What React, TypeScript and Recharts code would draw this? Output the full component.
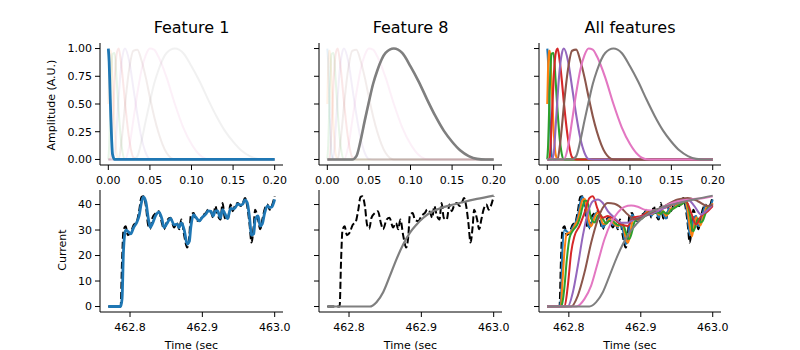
import React from 'react';
import { LineChart, Line, XAxis, YAxis } from 'recharts';

// tab10
const COLORS = ['#1f77b4', '#ff7f0e', '#2ca02c', '#d62728', '#9467bd', '#8c564b', '#e377c2', '#7f7f7f'];

// ---- top row: basis functions (A.U.) ----
const BASIS_T = [0, 0.001, 0.002, 0.003, 0.004, 0.005, 0.0075, 0.01, 0.0125, 0.015, 0.0175, 0.02, 0.025, 0.03, 0.035, 0.04, 0.045,
  0.05, 0.055, 0.06, 0.07, 0.08, 0.09, 0.1, 0.11, 0.12, 0.13, 0.14, 0.15, 0.16, 0.17, 0.18, 0.19, 0.2];

const F1 = [1, 0.88, 0.63, 0.38, 0.18, 0.05, 0, 0, 0, 0, 0, 0, 0, 0, 0, 0, 0, 0, 0, 0, 0, 0, 0, 0, 0, 0, 0, 0, 0, 0, 0, 0, 0, 0];
const F2 = [0.5, 0.83, 0.98, 0.98, 0.88, 0.72, 0.3, 0.05, 0, 0, 0, 0, 0, 0, 0, 0, 0, 0, 0, 0, 0, 0, 0, 0, 0, 0, 0, 0, 0, 0, 0, 0, 0, 0];
const F3 = [0, 0.12, 0.37, 0.63, 0.83, 0.95, 0.96, 0.72, 0.43, 0.19, 0.05, 0, 0, 0, 0, 0, 0, 0, 0, 0, 0, 0, 0, 0, 0, 0, 0, 0, 0, 0, 0, 0, 0, 0];
const F4 = [0, 0, 0, 0.02, 0.12, 0.28, 0.7, 0.95, 1.0, 0.89, 0.72, 0.52, 0.19, 0.02, 0, 0, 0, 0, 0, 0, 0, 0, 0, 0, 0, 0, 0, 0, 0, 0, 0, 0, 0, 0];
const F5 = [0, 0, 0, 0, 0, 0, 0.04, 0.28, 0.57, 0.81, 0.95, 1.0, 0.89, 0.65, 0.4, 0.19, 0.06, 0.004, 0, 0, 0, 0, 0, 0, 0, 0, 0, 0, 0, 0, 0, 0, 0, 0];
const F6 = [0, 0, 0, 0, 0, 0, 0, 0, 0.005, 0.11, 0.28, 0.48, 0.81, 0.98, 0.99, 0.89, 0.74, 0.56, 0.39, 0.25, 0.06, 0, 0, 0, 0, 0, 0, 0, 0, 0, 0, 0, 0, 0];
const F7 = [0, 0, 0, 0, 0, 0, 0, 0, 0, 0, 0, 0, 0.11, 0.35, 0.6, 0.81, 0.94, 1.0, 0.99, 0.93, 0.74, 0.5, 0.29, 0.14, 0.04, 0.002, 0, 0, 0, 0, 0, 0, 0, 0];
const F8 = [0, 0, 0, 0, 0, 0, 0, 0, 0, 0, 0, 0, 0, 0, 0.03, 0.17, 0.35, 0.52, 0.68, 0.8, 0.96, 1.0, 0.96, 0.84, 0.7, 0.54, 0.39, 0.26, 0.16, 0.08, 0.03, 0.005, 0, 0];
const BASIS = [F1, F2, F3, F4, F5, F6, F7, F8];

// ---- bottom row: current trace and its convolutions ----
const CURRENT_T = [
  462.770, 462.787, 462.789, 462.791, 462.794, 462.797, 462.801, 462.805, 462.809, 462.8125,
  462.816, 462.8185, 462.822, 462.825, 462.828, 462.831, 462.836, 462.840, 462.844, 462.847,
  462.852, 462.856, 462.861, 462.865, 462.868, 462.871, 462.875, 462.879, 462.882, 462.884,
  462.888, 462.891, 462.896, 462.900, 462.905, 462.908, 462.912, 462.915, 462.918, 462.921,
  462.925, 462.928, 462.931, 462.935, 462.939, 462.942, 462.945, 462.949, 462.953, 462.956,
  462.959, 462.962, 462.965, 462.968, 462.971, 462.973, 462.977, 462.980, 462.983, 462.986,
  462.990, 462.993, 462.996, 463.000];
const CURRENT = [
  0, 0, 18, 30, 31.5, 28, 29, 32, 33, 37.4,
  43, 43.2, 39.3, 32, 30.5, 34.8, 36.7, 37.4, 32.8, 30.3,
  34.1, 34.8, 31, 32.8, 30.3, 34.1, 27.7, 23.1, 27.7, 35.5,
  36.7, 34.1, 33.5, 35.5, 36.7, 38, 37, 34.8, 39.4, 36.1,
  34.1, 40.6, 34.8, 34.1, 40, 37.4, 39.4, 40.6, 39.4, 40.6,
  42.6, 39.4, 32.9, 25.1, 31.6, 38, 34.2, 30.3, 34.2, 38,
  40, 38, 39.4, 43.2];
const CONV1 = [
  0, 0, 3, 22, 30, 29.5, 28.5, 31, 32.8, 35.5,
  41, 43, 41, 35, 31, 32.5, 36, 37, 34.5, 31,
  33, 34.6, 32, 32.3, 31, 32.8, 30, 24.5, 25.5, 31,
  36, 35, 33.6, 35, 36.3, 37.5, 37.3, 35.5, 37.5, 37.5,
  34.8, 38, 36.5, 34.5, 38.5, 38.3, 38.6, 40.2, 39.8, 40.2,
  41.8, 40.8, 35.5, 28, 28.5, 34, 35.5, 31.5, 32.5, 36.5,
  39.5, 38.8, 39, 42];
const CONV2 = [
  0, 0, 0.5, 9, 22, 28.5, 29, 30, 32.3, 34,
  38.5, 41.5, 42.3, 38.5, 33.5, 31.5, 35, 36.8, 35.5, 32.5,
  32.5, 34.3, 33, 32, 31.6, 32, 32, 27, 25, 26.5,
  33, 35, 34, 34.5, 36, 37, 37.5, 36.3, 36.5, 37.8,
  36, 36.5, 37.5, 35.5, 37, 38.5, 38.3, 39.5, 40, 40,
  41.2, 41.5, 38, 31.5, 27.5, 30, 35, 33.5, 31.8, 34.5,
  38, 39.5, 38.8, 40.5];
const CONV3 = [
  0, 0, 0, 1.5, 8, 18, 27, 29.5, 31, 32.5,
  35.5, 38.5, 41.5, 41.5, 38.5, 34.5, 33, 35.5, 36, 34.5,
  32.5, 33.5, 33.5, 32.5, 32, 32, 32.3, 29.5, 27, 26.5,
  29.5, 33, 34.5, 34.3, 35.3, 36.3, 37.2, 37, 36.5, 37,
  36.8, 36.3, 37.3, 36.5, 36.5, 37.8, 38.4, 39, 39.8, 40,
  40.5, 41.3, 40.3, 36.5, 31, 29.5, 32.5, 34.5, 33, 33.5,
  36.5, 38.5, 39, 39.5];

const CONV4_T = [462.770, 462.794, 462.7986, 462.8032, 462.8079, 462.8148, 462.8218, 462.8287, 462.8333, 462.8403, 462.8472, 462.8542, 462.8634,
  462.8727, 462.8819, 462.8889, 462.9005, 462.9144, 462.9329, 462.9514, 462.963, 462.9699, 462.9769, 462.9838, 462.9931, 463.0];
const CONV4 = [0, 0, 8.2, 21.2, 27.7, 31.6, 36.8, 42.6, 43.2, 38, 34.8, 35.5, 34.2, 32.2, 31.6, 34.8, 35.5, 37.4, 38.7, 40.6, 41.3, 36.8, 32.2, 35.5, 37.4, 39.4];

const CONV5_T = [462.770, 462.7986, 462.8056, 462.8125, 462.8194, 462.8264, 462.8333, 462.8403, 462.8472, 462.8542, 462.8634, 462.8727,
  462.8819, 462.8912, 462.9051, 462.919, 462.9329, 462.9514, 462.9653, 462.9745, 462.9838, 462.9931, 463.0];
const CONV5 = [0, 0, 5.6, 16, 27.7, 36.8, 41.3, 42, 40.6, 37.4, 34.8, 32.9, 32.9, 34.2, 35.5, 36.8, 38.7, 41.3, 42, 39.4, 36.1, 38, 40];

const CONV6_T = [462.770, 462.8032, 462.8125, 462.8218, 462.831, 462.8403, 462.8472, 462.8542, 462.8634, 462.8727, 462.8819, 462.8912,
  462.9005, 462.9144, 462.9329, 462.9514, 462.9653, 462.9792, 462.9931, 463.0];
const CONV6 = [0, 0, 4.3, 13.4, 25, 34.2, 38.7, 40.6, 40.3, 38.7, 36.1, 34.2, 34.8, 36.8, 39.4, 42, 42.6, 41.3, 39.4, 40];

const CONV7_T = [462.770, 462.8102, 462.8218, 462.831, 462.8403, 462.8495, 462.8588, 462.868, 462.8773, 462.8866, 462.8958, 462.9051,
  462.9144, 462.9236, 462.9329, 462.9514, 462.9699, 462.9884, 463.0];
const CONV7 = [0, 0, 3, 8.2, 17.3, 26.4, 32.9, 36.8, 39.1, 39.6, 39.1, 38, 37.7, 38, 39.4, 41.3, 42, 42.6, 43.2];

const CONV8_T = [462.770, 462.8287, 462.838, 462.8472, 462.8565, 462.8657, 462.875, 462.8843, 462.8935, 462.9028, 462.912, 462.9213,
  462.9306, 462.9444, 462.9583, 462.9769, 463.0];
const CONV8 = [0, 0, 1.7, 5.6, 12, 18.6, 24.4, 29, 32.2, 34.8, 36.8, 38, 39, 40, 41, 42.2, 43.5];

const BASIS_TICKS = [0, 0.05, 0.1, 0.15, 0.2];
const AMP_TICKS = [0, 0.25, 0.5, 0.75, 1];
const TIME_TICKS = [462.8, 462.9, 463.0];
const CURRENT_TICKS = [0, 10, 20, 30, 40];
const TITLES = ['Feature 1', 'Feature 8', 'All features'];

const basisRows = BASIS_T.map((t, i) => {
  const row: Record<string, number> = { t };
  BASIS.forEach((f, k) => { row['f' + k] = f[i]; });
  return row;
});
const pairs = (ts: number[], vs: number[]) => ts.map((t, i) => ({ t, v: vs[i] }));

const currentRows = pairs(CURRENT_T, CURRENT);
const convRows = [
  pairs(CURRENT_T, CONV1), pairs(CURRENT_T, CONV2), pairs(CURRENT_T, CONV3), pairs(CONV4_T, CONV4),
  pairs(CONV5_T, CONV5), pairs(CONV6_T, CONV6), pairs(CONV7_T, CONV7), pairs(CONV8_T, CONV8),
];

const FONT = '"DejaVu Sans", sans-serif';
const COLS = [{ left: 100, width: 183 }, { left: 319, width: 183 }, { left: 539, width: 182 }];
const ROWS = [{ top: 43, height: 122 }, { top: 190, height: 122 }];
const ML = 70, MR = 20, MT = 20, MB = 40;

const tickStyle = { fill: '#000', fontSize: 11, fontFamily: FONT };
const axisStroke = { stroke: '#000', strokeWidth: 1 };

function Panel({ col, row, data, top, showY, children }: any) {
  const c = COLS[col];
  const r = ROWS[row];
  return (
    <div style={{ position: 'absolute', left: c.left - ML, top: r.top - MT }}>
      <LineChart width={c.width + ML + MR} height={r.height + MT + MB} data={data}
        margin={{ top: MT, right: MR, bottom: 0, left: 0 }}>
        <XAxis type="number" dataKey="t" height={MB} allowDataOverflow interval={0}
          domain={top ? [-0.01, 0.21] : [462.7585, 463.0115]}
          ticks={top ? BASIS_TICKS : TIME_TICKS}
          tickFormatter={(v: number) => (top ? v.toFixed(2) : v.toFixed(1))}
          tick={tickStyle} tickSize={5} tickMargin={6} axisLine={axisStroke} tickLine={axisStroke} />
        <YAxis type="number" width={ML} allowDataOverflow interval={0}
          domain={top ? [-0.05, 1.05] : [-2.15, 45.7]}
          ticks={top ? AMP_TICKS : CURRENT_TICKS}
          tickFormatter={(v: number) => (showY ? (top ? v.toFixed(2) : String(v)) : '')}
          tick={tickStyle} tickSize={5} tickMargin={3} axisLine={axisStroke} tickLine={axisStroke} />
        {children}
      </LineChart>
    </div>
  );
}

const basisLine = (k: number, faded: boolean, width: number) => (
  <Line key={(faded ? 'fa' : 'on') + k} dataKey={'f' + k} type="monotone" stroke={COLORS[k]}
    strokeOpacity={faded ? 0.11 : 1} strokeWidth={width} dot={false} activeDot={false} isAnimationActive={false} />
);

const currentLine = (
  <Line key="cur" data={currentRows} dataKey="v" type="monotone" stroke="#000" strokeWidth={2}
    strokeDasharray="7 3" dot={false} activeDot={false} isAnimationActive={false} />
);
const convLine = (k: number, width: number) => (
  <Line key={'cv' + k} data={convRows[k]} dataKey="v" type="monotone" stroke={COLORS[k]}
    strokeWidth={width} dot={false} activeDot={false} isAnimationActive={false} />
);

const abs = (style: React.CSSProperties, text: string) => (
  <div style={{ position: 'absolute', whiteSpace: 'nowrap', fontFamily: FONT, color: '#000', lineHeight: 1, ...style }}>{text}</div>
);

export default function App() {
  return (
    <div style={{ position: 'absolute', left: 0, top: 0, width: 800, height: 350, background: '#fff', overflow: 'hidden', fontFamily: FONT }}>
      {TITLES.map((t, i) => abs({ left: COLS[i].left + COLS[i].width / 2, top: 28, fontSize: 16, transform: 'translate(-50%, -50%)' }, t))}

      <Panel col={0} row={0} data={basisRows} top showY>
        {BASIS.map((_, k) => basisLine(k, true, 2))}
        {basisLine(0, false, 2.8)}
      </Panel>
      <Panel col={1} row={0} data={basisRows} top showY={false}>
        {BASIS.map((_, k) => basisLine(k, true, 2))}
        {basisLine(7, false, 2.6)}
      </Panel>
      <Panel col={2} row={0} data={basisRows} top showY={false}>
        {BASIS.map((_, k) => basisLine(k, false, 2.1))}
      </Panel>

      <Panel col={0} row={1} showY>
        {currentLine}
        {convLine(0, 2.8)}
      </Panel>
      <Panel col={1} row={1} showY={false}>
        {currentLine}
        {convLine(7, 2.2)}
      </Panel>
      <Panel col={2} row={1} showY={false}>
        {currentLine}
        {convRows.map((_, k) => convLine(k, 2))}
      </Panel>

      {abs({ left: 51, top: 105, fontSize: 11, transform: 'translate(-50%, -50%) rotate(-90deg)' }, 'Amplitude (A.U.)')}
      {abs({ left: 62, top: 250, fontSize: 11, transform: 'translate(-50%, -50%) rotate(-90deg)' }, 'Current')}
      {COLS.map((c, i) => abs({ left: c.left + c.width / 2, top: 345, fontSize: 11, transform: 'translate(-50%, -50%)' }, 'Time (sec'))}
    </div>
  );
}
